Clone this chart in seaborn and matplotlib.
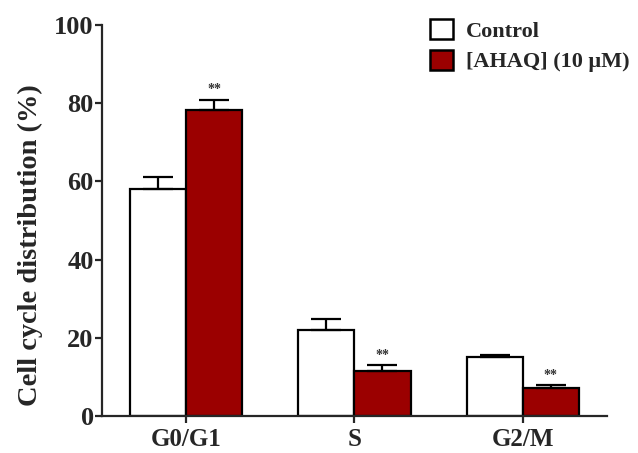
import matplotlib
matplotlib.use("Agg")
import matplotlib.pyplot as plt
from matplotlib.patches import Patch
import seaborn as sns
import pandas as pd

# Cell cycle phase distribution (%), mean and upper SD
phases = ["G0/G1", "S", "G2/M"]
control_mean = [58.0, 22.0, 15.0]
control_err = [3.2, 2.8, 0.5]
ahaq_mean = [78.3, 11.5, 7.2]
ahaq_err = [2.6, 1.5, 0.8]
groups = ["Control", "[AHAQ] (10 \u03bcM)"]
significance = ["**", "**", "**"]

colors = {"Control": "white", groups[1]: "#9b0000"}

df = pd.DataFrame({
    "phase": phases * 2,
    "group": [groups[0]] * 3 + [groups[1]] * 3,
    "value": control_mean + ahaq_mean,
})

sns.set_style("ticks")
plt.rcParams["font.family"] = ["Liberation Serif", "DejaVu Serif"]
plt.rcParams["font.weight"] = "bold"

fig = plt.figure(figsize=(6.38, 4.53), dpi=100)
ax = fig.add_axes([0.16, 0.0817, 0.791, 0.8635])

sns.barplot(data=df, x="phase", y="value", hue="group", order=phases,
            hue_order=groups, palette=colors, saturation=1, width=0.667, gap=0,
            edgecolor="black", linewidth=1.6, errorbar=None, legend=False,
            ax=ax)

errs = [control_err, ahaq_err]
for container, err in zip(ax.containers, errs):
    xs = [p.get_x() + p.get_width() / 2 for p in container.patches]
    hs = [p.get_height() for p in container.patches]
    ax.errorbar(xs, hs, yerr=[[0] * len(err), err], fmt="none",
                ecolor="black", elinewidth=1.6, capsize=10.5, capthick=1.6,
                zorder=1)

# significance marks above the treated bars
for x_p, h, e, s in zip(ax.containers[1].patches, ahaq_mean, ahaq_err, significance):
    ax.text(x_p.get_x() + x_p.get_width() / 2, h + e + 0.8, s,
            ha="center", va="bottom", fontsize=10, fontweight="bold",
            color="#333333")

ax.set_xlim(-0.5, 2.5)
ax.set_ylim(0, 100)
ax.set_yticks([0, 20, 40, 60, 80, 100])
ax.set_xlabel("")
ax.set_ylabel("Cell cycle distribution (%)", fontsize=20.5, fontweight="bold")
ax.yaxis.set_label_coords(-0.117, 0.437)
ax.tick_params(axis="both", width=1.6, length=5, direction="out")
ax.tick_params(axis="y", labelsize=19, pad=1)
ax.tick_params(axis="x", labelsize=18, pad=4)
for lbl in ax.get_xticklabels() + ax.get_yticklabels():
    lbl.set_fontweight("bold")

sns.despine(ax=ax)
for side in ["left", "bottom"]:
    ax.spines[side].set_linewidth(1.6)

handles = [Patch(facecolor=colors[g], edgecolor="black", linewidth=1.8, label=g)
           for g in groups]
ax.legend(handles=handles, loc="upper right", bbox_to_anchor=(1.085, 1.065),
          frameon=False, handlelength=1.0, handleheight=1.0,
          handletextpad=0.6, labelspacing=0.35,
          prop={"family": ["Liberation Serif", "DejaVu Serif"], "weight": "bold", "size": 16})

fig.savefig("out.png", dpi=100)
